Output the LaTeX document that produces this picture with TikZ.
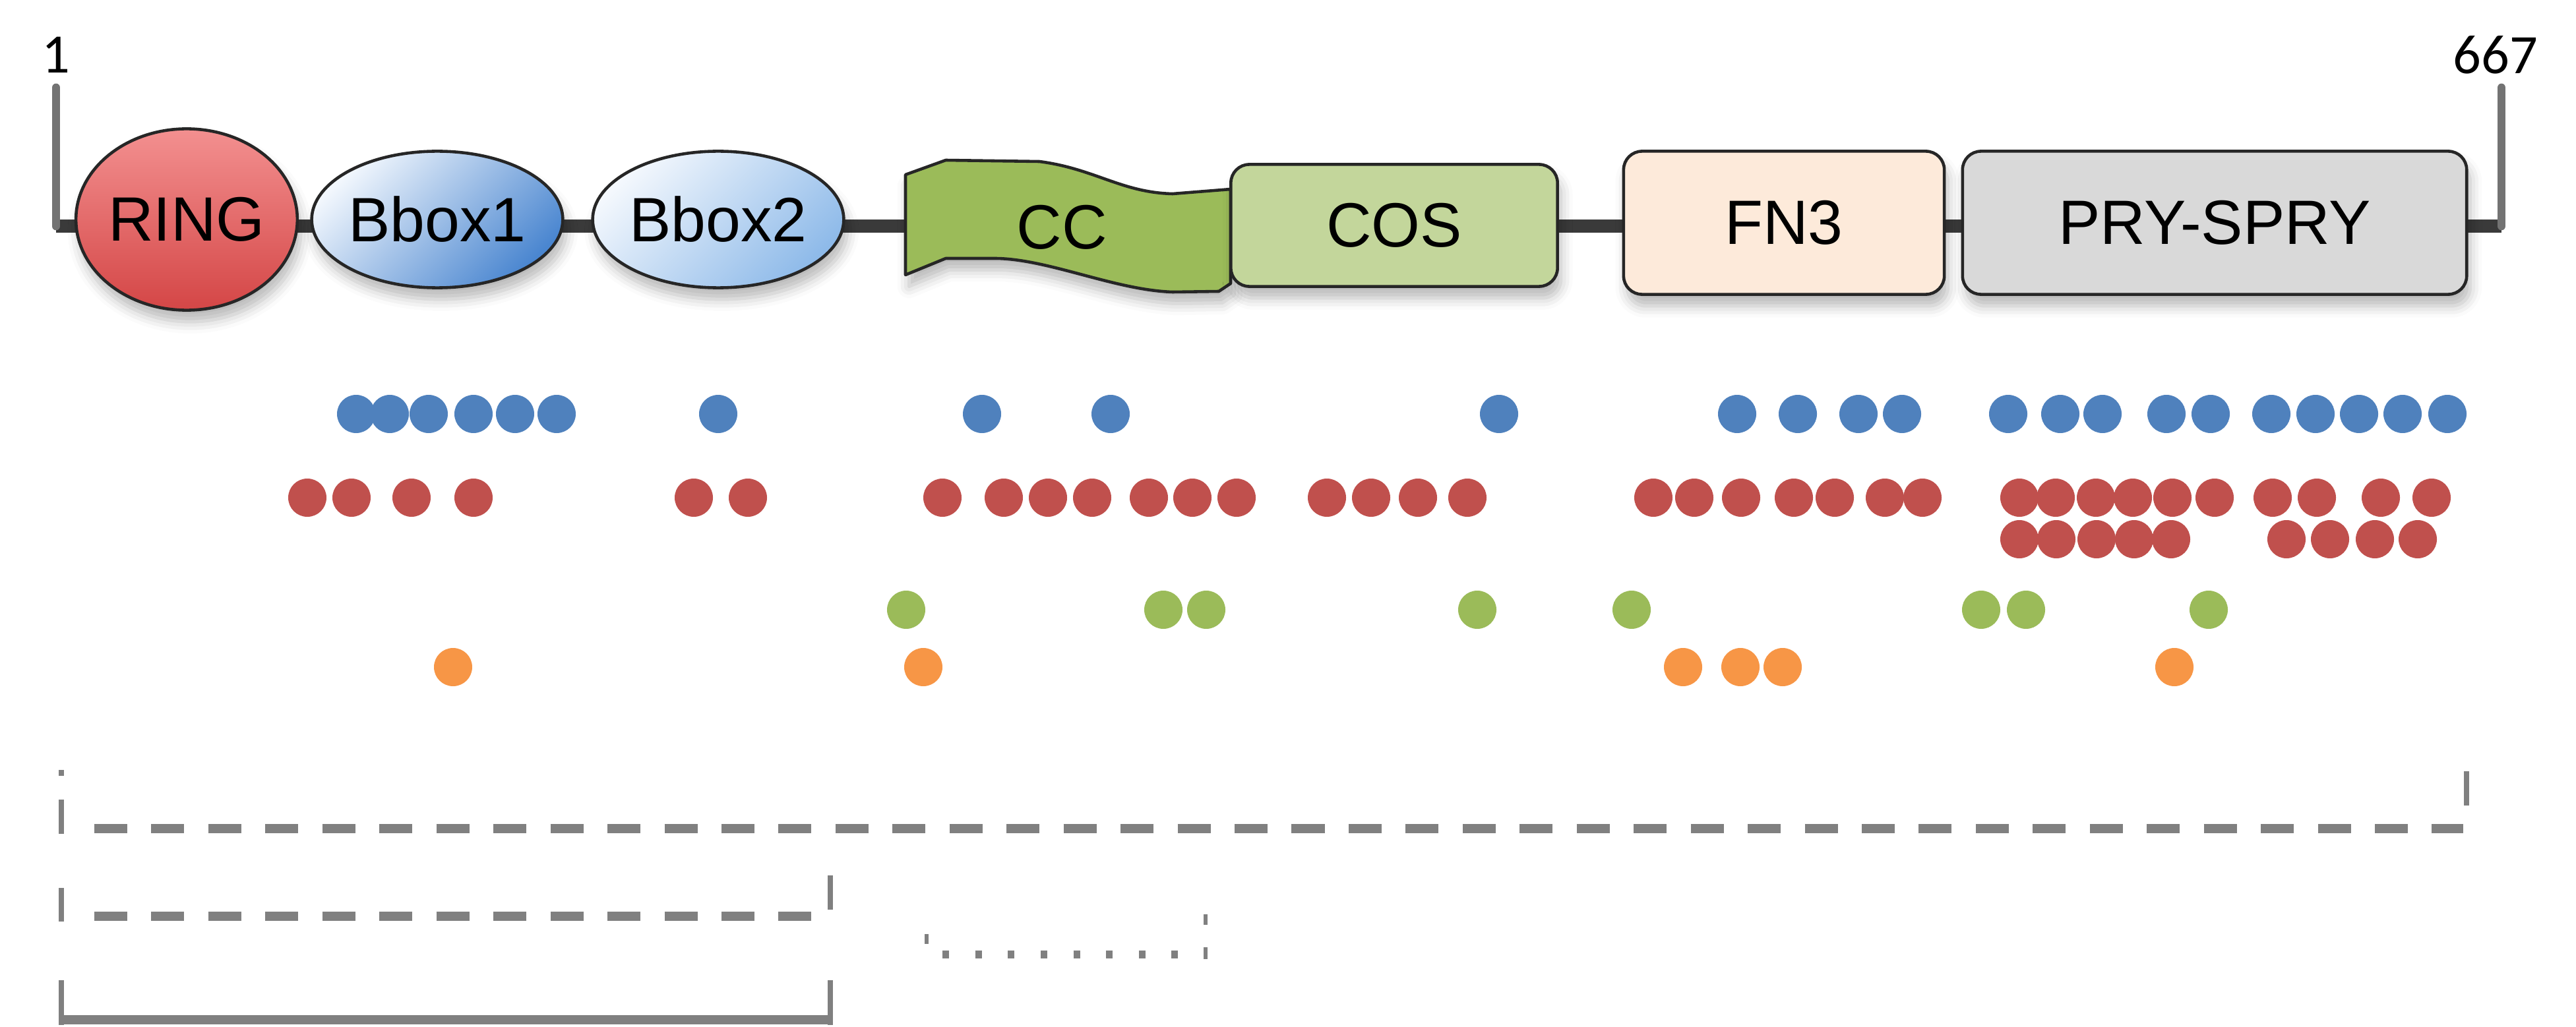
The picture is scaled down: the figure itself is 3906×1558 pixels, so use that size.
\documentclass[tikz,border=0pt]{standalone}
\usepackage{fontspec}
\setmainfont{Liberation Sans}
\newfontfamily\numfont{Carlito}
\usetikzlibrary{shapes.geometric,shadows.blur}

\definecolor{dblue}{HTML}{4F81BD}
\definecolor{dred}{HTML}{C0504D}
\definecolor{dgreen}{HTML}{9BBB59}
\definecolor{dorange}{HTML}{F79646}
\definecolor{ccfill}{HTML}{9BBB59}
\definecolor{cosfill}{HTML}{C3D69B}
\definecolor{fnfill}{HTML}{FDEADA}
\definecolor{pryfill}{HTML}{D9D9D9}
\definecolor{outl}{HTML}{262626}
\definecolor{bbone}{HTML}{3A3A3A}
\definecolor{tickc}{HTML}{737373}
\definecolor{brkc}{HTML}{808080}
\definecolor{ringtop}{HTML}{F39090}
\definecolor{ringbot}{HTML}{D44646}
\definecolor{bbl}{HTML}{F2F7FD}
\definecolor{bbdark}{HTML}{4A86D0}
\definecolor{bbtwol}{HTML}{F4F8FD}
\definecolor{bblight}{HTML}{8EBAE9}

\begin{document}
\begin{tikzpicture}[x=0.01cm,y=-0.01cm,
  shad/.style={blur shadow={shadow xshift=1.5pt, shadow yshift=-5pt, shadow blur radius=5pt, shadow opacity=28}},
  dom/.style={draw=outl, line width=1.3pt, inner sep=0pt, shad,
    font=\fontsize{27}{30}\selectfont},
  ell/.style={dom, ellipse},
  boxd/.style={dom, rectangle, rounded corners=0.28cm},
  lbl/.style={inner sep=0pt, font=\fontsize{27}{30}\selectfont},
  numlbl/.style={inner sep=0pt, font=\numfont\fontsize{24}{26}\selectfont},
  bb/.style={draw=bbone, line width=5.7pt},
  tickl/.style={draw=tickc, line width=3.6pt, line cap=round},
  brkv/.style={draw=brkc, line width=2.3pt},
  brkh/.style={draw=brkc, line width=4pt, dash pattern=on 0.5cm off 0.364cm},
  brks/.style={draw=brkc, line width=4pt},
  brkdot/.style={draw=brkc, line width=3.4pt, dash pattern=on 0.1cm off 0.396cm},
  brkvt/.style={draw=brkc, line width=1.7pt},
  bdot/.style={fill=dblue},
  rdot/.style={fill=dred},
  gdot/.style={fill=dgreen},
  odot/.style={fill=dorange}
]
\useasboundingbox (0,0) rectangle (3906,1558);

% backbone and end ticks
\coordinate (s) at (85,343);
\coordinate (e) at (3793,343);
\coordinate (st) at (85,133);
\coordinate (et) at (3793,133);
\draw[bb] (s) -- (e);
\draw[tickl] (st) -- (s);
\draw[tickl] (et) -- (e);
\node[numlbl] (n1) at (85,83) {1};
\node[numlbl] (n667) at (3784,83) {667};

% domains
\node[ell, minimum width=3.25cm, minimum height=2.75cm,
  top color=ringtop, bottom color=ringbot] (ring) at (283,333) {RING};
\node[ell, minimum width=3.62cm, minimum height=2.07cm,
  top color=bbl, bottom color=bbdark, shading angle=45] (bbox1) at (663,333) {Bbox1};
\node[ell, minimum width=3.48cm, minimum height=2.07cm,
  top color=bbtwol, bottom color=bblight, shading angle=45] (bbox2) at (1089,333) {Bbox2};

\path[draw=outl, line width=1.3pt, fill=ccfill, line join=round, shad]
  (1373,265) -- (1434,243) -- (1576,245)
  .. controls (1660,256) and (1700,292) .. (1778,294)
  -- (1866,287) -- (1866,430) -- (1848,442) -- (1778,443)
  .. controls (1690,440) and (1590,393) .. (1510,392)
  -- (1434,392) -- (1373,417) -- cycle;
\node[lbl] (cc) at (1610,345) {CC};

\node[boxd, minimum width=4.95cm, minimum height=1.85cm, fill=cosfill] (cos) at (2114,342) {COS};
\node[boxd, minimum width=4.86cm, minimum height=2.17cm, fill=fnfill] (fn3) at (2705,338) {FN3};
\node[boxd, minimum width=7.64cm, minimum height=2.17cm, fill=pryfill] (pry) at (3358,338) {PRY-SPRY};

% blue row
\foreach \x in {540,591,650,718,781,844,1089,1489,1684,2273,2634,2726,2818,2884,3045,3124,3188,3285,3352,3444,3511,3577,3643,3711}
  \fill[bdot] (\x,628) circle[radius=29];
% red rows
\foreach \x in {466,533,624,718,1052,1134,1429,1522,1589,1656,1742,1808,1875,2012,2079,2150,2225,2507,2569,2640,2720,2782,2858,2915,3062,3117,3178,3234,3294,3358,3446,3513,3610,3687}
  \fill[rdot] (\x,755) circle[radius=29];
\foreach \x in {3062,3118,3179,3236,3292,3467,3533,3601,3666}
  \fill[rdot] (\x,818) circle[radius=29];
% green row
\foreach \x in {1374,1764,1829,2240,2474,3004,3072,3349}
  \fill[gdot] (\x,925) circle[radius=29];
% orange row
\foreach \x in {687,1400,2552,2639,2703,3297}
  \fill[odot] (\x,1012) circle[radius=29];

% bracket 1 (full length, dashed)
\draw[brkv] (93,1168) -- (93,1177);
\draw[brkv] (93,1213) -- (93,1265);
\draw[brkh] (143,1257) -- (3735,1257);
\draw[brkv] (3740,1170) -- (3740,1222);
% bracket 2 (dashed)
\draw[brkv] (93,1347) -- (93,1398);
\draw[brkh] (143,1390) -- (1231,1390);
\draw[brkv] (1259,1328) -- (1259,1380);
% bracket 3 (solid)
\draw[brkv] (93,1487) -- (93,1555);
\draw[brks] (93,1547) -- (1259,1547);
\draw[brkv] (1259,1487) -- (1259,1555);
% bracket 4 (dotted)
\draw[brkvt] (1405,1417) -- (1405,1432);
\draw[brkdot] (1429,1448) -- (1787,1448);
\draw[brkvt] (1828,1387) -- (1828,1403);
\draw[brkvt] (1828,1437) -- (1828,1455);
\end{tikzpicture}
\end{document}
